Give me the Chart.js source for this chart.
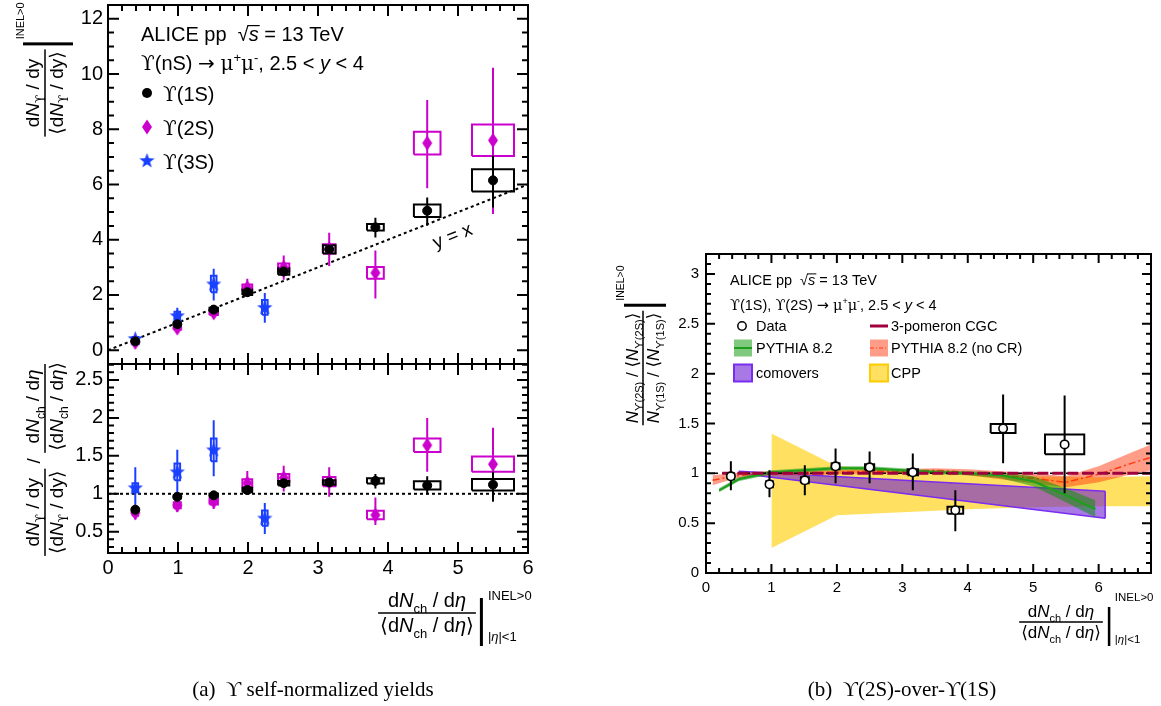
<!DOCTYPE html>
<html>
<head>
<meta charset="utf-8">
<title>Upsilon yields vs multiplicity</title>
<script src="https://cdn.jsdelivr.net/npm/chart.js@4.4.1/dist/chart.umd.min.js"></script>
<style>
  html, body { margin: 0; padding: 0; background: #fff; }
  body { position: relative; width: 1161px; height: 706px; overflow: hidden; }
  canvas { position: absolute; }
  .caption { position: absolute; top: 677px; font: 21px 'Liberation Serif', 'DejaVu Serif', serif; color: #000; white-space: nowrap; transform: translateX(-50%); }
</style>
</head>
<body>
<canvas id="yields" width="560" height="364" style="left:0;top:0"></canvas>
<canvas id="ratios" width="560" height="342" style="left:0;top:364px"></canvas>
<canvas id="double" width="561" height="406" style="left:600px;top:240px"></canvas>
<div class="caption" style="left:313px">(a)&nbsp; ϒ self-normalized yields</div>
<div class="caption" style="left:902px">(b)&nbsp; ϒ(2S)-over-ϒ(1S)</div>
<script>
// ---------- data ----------
// multiplicity bins, dNch/deta / <dNch/deta>
const multBins = [0.39, 0.99, 1.51, 1.99, 2.51, 3.16, 3.82, 4.56, 5.5];
const multBinSys = [0.04, 0.05, 0.06, 0.07, 0.08, 0.09, 0.12, 0.19, 0.3];
const multBins3S = [0.39, 0.99, 1.51, 2.24];
const multBinSys3S = [0.04, 0.04, 0.04, 0.04];

// self-normalized yields (upper left)
const yield1S = [0.32, 0.94, 1.47, 2.1, 2.85, 3.65, 4.45, 5.05, 6.15];
const yield1SLo = [0.28, 0.88, 1.4, 2.02, 2.75, 3.52, 4.08, 4.51, 5.17];
const yield1SHi = [0.36, 1.0, 1.54, 2.18, 2.95, 3.78, 4.8, 5.53, 7.04];
const yield1SSys = [0.03, 0.05, 0.07, 0.1, 0.12, 0.15, 0.12, 0.23, 0.4];

const yield2S = [0.28, 0.8, 1.35, 2.26, 3.0, 3.67, 2.8, 7.5, 7.6];
const yield2SLo = [0.18, 0.68, 1.23, 1.93, 2.55, 3.05, 1.87, 5.86, 4.93];
const yield2SHi = [0.38, 0.92, 1.47, 2.59, 3.43, 4.25, 3.61, 9.06, 10.23];
const yield2SSys = [0.05, 0.06, 0.08, 0.12, 0.14, 0.17, 0.21, 0.41, 0.57];

const yield3S = [0.42, 1.25, 2.4, 1.55];
const yield3SLo = [0.32, 0.84, 1.8, 0.99];
const yield3SHi = [0.52, 1.54, 2.95, 2.07];
const yield3SSys = [0.06, 0.14, 0.3, 0.27];

// yields divided by multiplicity (lower left)
const ratio1S = [0.79, 0.96, 0.98, 1.05, 1.14, 1.15, 1.17, 1.11, 1.12];
const ratio1SLo = [0.76, 0.93, 0.95, 1.02, 1.11, 1.12, 1.07, 0.99, 0.9];
const ratio1SHi = [0.82, 0.99, 1.01, 1.08, 1.17, 1.18, 1.26, 1.23, 1.29];
const ratio1SSys = [0.02, 0.02, 0.02, 0.03, 0.03, 0.03, 0.035, 0.055, 0.075];

const ratio2S = [0.75, 0.85, 0.9, 1.14, 1.21, 1.16, 0.72, 1.64, 1.39];
const ratio2SLo = [0.66, 0.76, 0.8, 0.99, 1.03, 0.96, 0.59, 1.29, 0.9];
const ratio2SHi = [0.85, 0.95, 1.0, 1.3, 1.37, 1.35, 0.95, 2.0, 1.87];
const ratio2SSys = [0.04, 0.04, 0.04, 0.05, 0.05, 0.06, 0.055, 0.09, 0.1];

const ratio3S = [1.08, 1.29, 1.58, 0.68];
const ratio3SLo = [0.79, 0.96, 1.23, 0.47];
const ratio3SHi = [1.35, 1.58, 1.97, 0.88];
const ratio3SSys = [0.06, 0.11, 0.15, 0.1];

// 2S over 1S (right)
const dataBins = [0.38, 0.97, 1.51, 1.98, 2.5, 3.16, 3.81, 4.54, 5.48];
const dataBinSys = [0.05, 0.05, 0.06, 0.06, 0.07, 0.08, 0.12, 0.19, 0.3];
const doubleRatio = [0.97, 0.89, 0.93, 1.07, 1.06, 1.01, 0.63, 1.45, 1.29];
const doubleLo = [0.83, 0.76, 0.78, 0.9, 0.9, 0.83, 0.42, 1.1, 0.8];
const doubleHi = [1.12, 1.03, 1.08, 1.25, 1.22, 1.2, 0.83, 1.79, 1.78];
const doubleSys = [0.03, 0.03, 0.03, 0.03, 0.03, 0.03, 0.035, 0.045, 0.1];

// models
const cgcX = [0.25, 6.8];
const cgcY = [1.0, 1.0];
const pythiaX = [0.2, 0.5, 1, 1.5, 2, 2.5, 3, 3.5, 4, 4.5, 5, 5.5, 5.95];
const pythiaY = [0.83, 0.94, 1.01, 1.03, 1.05, 1.05, 1.03, 1.01, 1.0, 0.98, 0.92, 0.78, 0.64];
const pythiaLo = [0.81, 0.92, 0.99, 1.01, 1.03, 1.03, 1.01, 0.99, 0.98, 0.95, 0.87, 0.71, 0.56];
const pythiaHi = [0.85, 0.96, 1.03, 1.05, 1.07, 1.07, 1.05, 1.03, 1.02, 1.01, 0.97, 0.85, 0.73];
const noCrX = [0.1, 0.4, 0.7, 1, 1.5, 2, 2.5, 3, 3.5, 4, 4.5, 5, 5.5, 6, 6.5, 6.8];
const noCrY = [0.93, 0.97, 0.99, 1.0, 1.0, 1.01, 1.02, 1.02, 1.03, 1.01, 0.98, 0.95, 0.91, 0.99, 1.1, 1.16];
const noCrLo = [0.88, 0.94, 0.97, 0.98, 0.98, 0.99, 1.0, 1.0, 1.01, 0.98, 0.94, 0.9, 0.86, 0.91, 0.99, 1.03];
const noCrHi = [0.98, 1.0, 1.01, 1.02, 1.02, 1.03, 1.04, 1.04, 1.05, 1.04, 1.02, 1.0, 0.97, 1.07, 1.21, 1.29];
const comoversX = [0.5, 6.1];
const comoversLo = [1.0, 0.55];
const comoversHi = [1.02, 0.82];
const cppX = [1, 2, 3, 4, 5, 6, 6.8];
const cppLo = [0.25, 0.58, 0.61, 0.64, 0.66, 0.67, 0.67];
const cppHi = [1.4, 1.07, 1.04, 1.01, 0.97, 0.96, 0.97];

// axes
const multTicks = [0, 1, 2, 3, 4, 5, 6];
const multLabels = ['0', '1', '2', '3', '4', '5', '6'];
const yieldTicks = [0, 2, 4, 6, 8, 10, 12];
const yieldLabels = ['0', '2', '4', '6', '8', '10', '12'];
const ratioTicks = [0.5, 1, 1.5, 2, 2.5];
const ratioLabels = ['0.5', '1', '1.5', '2', '2.5'];
const doubleTicks = [0, 0.5, 1, 1.5, 2, 2.5, 3];
const doubleLabels = ['0', '0.5', '1', '1.5', '2', '2.5', '3'];
const refX = [0, 6];
const refX2 = [0, 6.8];
const unity = [1, 1];

const seriesNames = ['ϒ(1S)', 'ϒ(2S)', 'ϒ(3S)'];
const modelNames = ['Data', '3-pomeron CGC', 'PYTHIA 8.2', 'PYTHIA 8.2 (no CR)', 'comovers', 'CPP'];

// ---------- styles ----------
const FAM = "'Liberation Sans','DejaVu Sans',Arial,sans-serif";
const SER = "'DejaVu Serif','Liberation Serif',serif";
const ARW = "'DejaVu Sans',sans-serif";
const C1 = '#000000', C2 = '#cc00cc', C3 = '#1a40ff';
const GREEN = '#1e9e1e', RED = '#ff3a10', PURPLE = '#7a2cf0', CGC = '#a0003c';
const GREEN_F = 'rgba(0,150,0,0.5)', RED_F = 'rgba(255,60,20,0.5)';
const PURPLE_F = 'rgba(110,30,210,0.6)', YELLOW_F = 'rgba(255,205,0,0.62)';

Chart.defaults.font.family = FAM;
Chart.defaults.color = '#000';

// ---------- rich text helpers ----------
function segFont(s, size) {
  const sz = (s.sub || s.sup) ? Math.round(size * 0.65) : size;
  return (s.i ? 'italic ' : '') + sz + 'px ' + (s.f || FAM);
}
function richWidth(ctx, segs, size) {
  let w = 0;
  for (const s of segs) { ctx.font = segFont(s, size); w += ctx.measureText(s.t).width; }
  return w;
}
function drawRich(ctx, x, y, segs, size, align) {
  if (align === 'center') x -= richWidth(ctx, segs, size) / 2;
  ctx.textAlign = 'left';
  ctx.textBaseline = 'alphabetic';
  for (const s of segs) {
    ctx.font = segFont(s, size);
    const dy = s.sub ? size * 0.28 : s.sup ? -size * 0.42 : 0;
    const w = ctx.measureText(s.t).width;
    ctx.fillText(s.t, x, y + dy);
    if (s.over) ctx.fillRect(x - 1, y - size * 0.8, w + 2, Math.max(1, size * 0.06));
    x += w;
  }
  return x;
}
function fracWidth(ctx, num, den, size) {
  return Math.max(richWidth(ctx, num, size), richWidth(ctx, den, size)) + 4;
}
function drawFrac(ctx, cx, cy, num, den, size) {
  const w = fracWidth(ctx, num, den, size);
  drawRich(ctx, cx, cy - size * 0.3, num, size, 'center');
  drawRich(ctx, cx, cy + size * 0.95, den, size, 'center');
  ctx.fillRect(cx - w / 2, cy - 0.75, w, 1.5);
  return w;
}
const ups = n => [{t: n[0], f: SER}, {t: n.slice(1)}];
const aliceLabel = [{t: 'ALICE pp  √'}, {t: 's', i: 1, over: 1}, {t: ' = 13 TeV'}];
const nsDecay = [{t: 'ϒ', f: SER}, {t: '(nS) '}, {t: '→', f: ARW}, {t: ' '}, {t: 'μ', f: SER}, {t: '+', sup: 1}, {t: 'μ', f: SER}, {t: '-', sup: 1}, {t: ', 2.5 < '}, {t: 'y', i: 1}, {t: ' < 4'}];
const s12Decay = [{t: 'ϒ', f: SER}, {t: '(1S), '}, {t: 'ϒ', f: SER}, {t: '(2S) '}, {t: '→', f: ARW}, {t: ' '}, {t: 'μ', f: SER}, {t: '+', sup: 1}, {t: 'μ', f: SER}, {t: '-', sup: 1}, {t: ', 2.5 < '}, {t: 'y', i: 1}, {t: ' < 4'}];
const upsNum = [{t: 'd'}, {t: 'N', i: 1}, {t: 'ϒ', sub: 1, f: SER}, {t: ' / dy'}];
const upsDen = [{t: '⟨d'}, {t: 'N', i: 1}, {t: 'ϒ', sub: 1, f: SER}, {t: ' / dy⟩'}];
const chNum = [{t: 'd'}, {t: 'N', i: 1}, {t: 'ch', sub: 1}, {t: ' / d'}, {t: 'η', i: 1}];
const chDen = [{t: '⟨d'}, {t: 'N', i: 1}, {t: 'ch', sub: 1}, {t: ' / d'}, {t: 'η', i: 1}, {t: '⟩'}];
const s2Num = [{t: 'N', i: 1}, {t: 'ϒ(2S)', sub: 1}, {t: ' / ⟨'}, {t: 'N', i: 1}, {t: 'ϒ(2S)', sub: 1}, {t: '⟩'}];
const s1Den = [{t: 'N', i: 1}, {t: 'ϒ(1S)', sub: 1}, {t: ' / ⟨'}, {t: 'N', i: 1}, {t: 'ϒ(1S)', sub: 1}, {t: '⟩'}];

// ---------- markers ----------
function markerCanvas(w, h, draw) {
  const c = document.createElement('canvas');
  c.width = w; c.height = h;
  draw(c.getContext('2d'));
  return c;
}
function starPath(g, cx, cy, R, r) {
  g.beginPath();
  for (let k = 0; k < 10; k++) {
    const a = -Math.PI / 2 + k * Math.PI / 5, rr = k % 2 ? r : R;
    g.lineTo(cx + rr * Math.cos(a), cy + rr * Math.sin(a));
  }
  g.closePath();
}
const starImg = markerCanvas(17, 17, g => { starPath(g, 8.5, 9, 8, 3.3); g.fillStyle = C3; g.fill(); });
const diamondImg = markerCanvas(12, 16, g => {
  g.beginPath(); g.moveTo(6, 0.5); g.lineTo(11, 8); g.lineTo(6, 15.5); g.lineTo(1, 8); g.closePath();
  g.fillStyle = C2; g.fill();
});

// ---------- dataset builders ----------
const pts = (xs, ys) => xs.map((x, i) => ({x, y: ys[i]}));
function errData(xs, lo, hi) {
  const d = [];
  xs.forEach((x, i) => d.push({x, y: lo[i]}, {x, y: hi[i]}, {x, y: null}));
  return d;
}
function boxData(xs, ys, sys, xw) {
  const d = [];
  xs.forEach((x, i) => {
    const a = x - xw[i], b = x + xw[i], l = ys[i] - sys[i], h = ys[i] + sys[i];
    d.push({x: a, y: l}, {x: b, y: l}, {x: b, y: h}, {x: a, y: h}, {x: a, y: l}, {x, y: null});
  });
  return d;
}
const lineDs = (data, color, width, extra) =>
  Object.assign({data, borderColor: color, borderWidth: width, pointRadius: 0, fill: false, tension: 0}, extra);
const markDs = (data, style, radius, color, extra) =>
  Object.assign({data, showLine: false, pointStyle: style, pointRadius: radius, pointBackgroundColor: color,
    pointBorderColor: color, pointBorderWidth: 1}, extra);

// ---------- scales / frame ----------
function yScale(min, max, ticks, labels, size, pad, width) {
  return {
    type: 'linear', min, max,
    afterBuildTicks: s => { s.ticks = ticks.map(v => ({value: v})); },
    ticks: {font: {size}, color: '#000', padding: pad, autoSkip: false, callback: (v, i) => labels[i]},
    grid: {display: false, drawTicks: false},
    border: {display: false},
    afterFit: s => { s.width = width; s.paddingTop = 0; s.paddingBottom = 0; }
  };
}
function xScale(min, max, ticks, labels, size, pad, height, show) {
  return {
    type: 'linear', min, max,
    afterBuildTicks: s => { s.ticks = ticks.map(v => ({value: v})); },
    ticks: {display: show, font: {size}, color: '#000', padding: pad, autoSkip: false, maxRotation: 0,
      callback: (v, i) => labels[i]},
    grid: {display: false, drawTicks: false},
    border: {display: false},
    afterFit: s => { s.height = height; s.paddingLeft = 0; s.paddingRight = 0; }
  };
}
const framePlugin = {
  id: 'frame',
  afterDatasetsDraw(chart, args, o) {
    const {ctx, chartArea: a} = chart;
    const sx = chart.scales.x, sy = chart.scales.y;
    const mark = (step, major, scale, fn) => {
      const k0 = Math.ceil(scale.min / step - 1e-6);
      for (let k = k0; k * step <= scale.max + 1e-6; k++) {
        const v = k * step;
        const isMaj = Math.abs(v / major - Math.round(v / major)) < 1e-6;
        fn(scale.getPixelForValue(v), isMaj ? o.maj : o.min);
      }
    };
    ctx.save();
    ctx.strokeStyle = '#000';
    ctx.lineWidth = o.lw;
    ctx.beginPath();
    mark(o.xMinor, o.xMajor, sx, (p, L) => {
      ctx.moveTo(p, a.bottom); ctx.lineTo(p, a.bottom - L);
      ctx.moveTo(p, a.top); ctx.lineTo(p, a.top + L);
    });
    mark(o.yMinor, o.yMajor, sy, (p, L) => {
      ctx.moveTo(a.left, p); ctx.lineTo(a.left + L, p);
      ctx.moveTo(a.right, p); ctx.lineTo(a.right - L, p);
    });
    ctx.stroke();
    ctx.strokeRect(a.left, a.top, a.right - a.left, a.bottom - a.top);
    ctx.restore();
  }
};
function baseOptions(padding, x, y, frame) {
  return {
    responsive: false, animation: false, devicePixelRatio: 1, events: [],
    layout: {padding, autoPadding: false},
    plugins: {legend: {display: false}, tooltip: {enabled: false}, frame},
    scales: {x, y}
  };
}

// ---------- upper left: yields ----------
const yieldText = {
  id: 'yieldText',
  afterDraw(chart) {
    const ctx = chart.ctx;
    ctx.save();
    ctx.fillStyle = '#000';
    drawRich(ctx, 141, 41, aliceLabel, 20);
    drawRich(ctx, 141, 70, nsDecay, 20);
    const rows = [93, 127, 161];
    ctx.beginPath(); ctx.arc(147, rows[0], 5, 0, 2 * Math.PI); ctx.fillStyle = C1; ctx.fill();
    ctx.drawImage(diamondImg, 141, rows[1] - 8);
    ctx.drawImage(starImg, 138.5, rows[2] - 9);
    ctx.fillStyle = '#000';
    seriesNames.forEach((n, i) => drawRich(ctx, 163, rows[i] + 8, ups(n), 20));

    ctx.save();
    ctx.translate(452, 235);
    ctx.rotate(-0.376);
    drawRich(ctx, 0, 7, [{t: 'y = x'}], 19, 'center');
    ctx.restore();

    ctx.save();
    ctx.translate(45, 93);
    ctx.rotate(-Math.PI / 2);
    const w = drawFrac(ctx, 0, 0, upsNum, upsDen, 19);
    ctx.fillRect(w / 2 + 4, -22, 3, 50);
    drawRich(ctx, w / 2 + 10, -21, [{t: 'INEL>0'}], 11);
    ctx.restore();
    ctx.restore();
  }
};

new Chart(document.getElementById('yields'), {
  type: 'line',
  data: {datasets: [
    markDs(pts(multBins, yield1S), 'circle', 4.5, C1, {order: 1}),
    markDs(pts(multBins, yield2S), diamondImg, 6, C2, {order: 2}),
    markDs(pts(multBins3S, yield3S), starImg, 6, C3, {order: 3}),
    lineDs(errData(multBins, yield1SLo, yield1SHi), C1, 2, {order: 4}),
    lineDs(errData(multBins, yield2SLo, yield2SHi), C2, 2, {order: 5}),
    lineDs(errData(multBins3S, yield3SLo, yield3SHi), C3, 2, {order: 6}),
    lineDs(boxData(multBins, yield1S, yield1SSys, multBinSys), C1, 2, {order: 7}),
    lineDs(boxData(multBins, yield2S, yield2SSys, multBinSys), C2, 2, {order: 8}),
    lineDs(boxData(multBins3S, yield3S, yield3SSys, multBinSys3S), C3, 2, {order: 9}),
    lineDs(pts(refX, refX), '#000', 2, {order: 10, borderDash: [3, 3]})
  ]},
  options: baseOptions({left: 0, right: 32, top: 5, bottom: 0},
    xScale(0, 6, multTicks, multLabels, 20, 3, 0, false),
    yScale(-0.5, 12.5, yieldTicks, yieldLabels, 20, 5, 108),
    {lw: 2, maj: 11, min: 6, xMajor: 1, xMinor: 0.2, yMajor: 2, yMinor: 0.5}),
  plugins: [framePlugin, yieldText]
});

// ---------- lower left: yields / multiplicity ----------
const ratioText = {
  id: 'ratioText',
  afterDraw(chart) {
    const ctx = chart.ctx;
    ctx.save();
    ctx.fillStyle = '#000';
    // y title
    ctx.save();
    ctx.translate(45, 94);
    ctx.rotate(-Math.PI / 2);
    const s = 19;
    const w1 = fracWidth(ctx, upsNum, upsDen, s), w2 = fracWidth(ctx, chNum, chDen, s);
    ctx.font = s + 'px ' + FAM;
    const ws = ctx.measureText(' / ').width;
    const x0 = -(w1 + ws + w2) / 2;
    drawFrac(ctx, x0 + w1 / 2, 0, upsNum, upsDen, s);
    drawRich(ctx, x0 + w1, -5, [{t: ' / '}], s);
    drawFrac(ctx, x0 + w1 + ws + w2 / 2, 0, chNum, chDen, s);
    ctx.restore();
    // x title
    const w = drawFrac(ctx, 427, 249, chNum, chDen, 20);
    const bx = 427 + w / 2 + 4;
    ctx.fillRect(bx, 234, 3, 48);
    drawRich(ctx, bx + 8, 236, [{t: 'INEL>0'}], 13);
    drawRich(ctx, bx + 8, 277, [{t: '|'}, {t: 'η', i: 1}, {t: '|<1'}], 13);
    ctx.restore();
  }
};

new Chart(document.getElementById('ratios'), {
  type: 'line',
  data: {datasets: [
    markDs(pts(multBins, ratio1S), 'circle', 4.5, C1, {order: 1}),
    markDs(pts(multBins, ratio2S), diamondImg, 6, C2, {order: 2}),
    markDs(pts(multBins3S, ratio3S), starImg, 6, C3, {order: 3}),
    lineDs(errData(multBins, ratio1SLo, ratio1SHi), C1, 2, {order: 4}),
    lineDs(errData(multBins, ratio2SLo, ratio2SHi), C2, 2, {order: 5}),
    lineDs(errData(multBins3S, ratio3SLo, ratio3SHi), C3, 2, {order: 6}),
    lineDs(boxData(multBins, ratio1S, ratio1SSys, multBinSys), C1, 2, {order: 7}),
    lineDs(boxData(multBins, ratio2S, ratio2SSys, multBinSys), C2, 2, {order: 8}),
    lineDs(boxData(multBins3S, ratio3S, ratio3SSys, multBinSys3S), C3, 2, {order: 9}),
    lineDs(pts(refX, unity), '#000', 2, {order: 10, borderDash: [3, 3]})
  ]},
  options: baseOptions({left: 0, right: 32, top: 0, bottom: 123},
    xScale(0, 6, multTicks, multLabels, 20, 3, 30, true),
    yScale(0.22, 2.71, ratioTicks, ratioLabels, 20, 5, 108),
    {lw: 2, maj: 11, min: 6, xMajor: 1, xMinor: 0.2, yMajor: 0.5, yMinor: 0.1}),
  plugins: [framePlugin, ratioText]
});

// ---------- right: 2S over 1S ----------
function legendBox(ctx, x, y, fill, stroke) {
  ctx.fillStyle = fill;
  ctx.fillRect(x, y, 18, 17);
  if (stroke) { ctx.strokeStyle = stroke; ctx.lineWidth = 2; ctx.strokeRect(x, y, 18, 17); }
}
const doubleText = {
  id: 'doubleText',
  afterDraw(chart) {
    const ctx = chart.ctx;
    ctx.save();
    ctx.fillStyle = '#000';
    drawRich(ctx, 130, 45, aliceLabel, 14.5);
    drawRich(ctx, 130, 70, s12Decay, 14.5);
    // legend
    const c1 = 142, t1 = 156, c2 = 270, t2 = 291, r = [86, 108, 133];
    ctx.beginPath(); ctx.arc(c1, r[0], 4.2, 0, 2 * Math.PI);
    ctx.fillStyle = '#fff'; ctx.fill(); ctx.strokeStyle = '#000'; ctx.lineWidth = 1.5; ctx.stroke();
    ctx.strokeStyle = CGC; ctx.lineWidth = 3;
    ctx.beginPath(); ctx.moveTo(c2, r[0]); ctx.lineTo(c2 + 18, r[0]); ctx.stroke();
    legendBox(ctx, 134, r[1] - 8.5, GREEN_F);
    ctx.strokeStyle = GREEN; ctx.lineWidth = 2;
    ctx.beginPath(); ctx.moveTo(134, r[1]); ctx.lineTo(152, r[1]); ctx.stroke();
    legendBox(ctx, c2, r[1] - 8.5, RED_F);
    ctx.strokeStyle = RED; ctx.lineWidth = 1; ctx.setLineDash([4, 2, 1, 2]);
    ctx.beginPath(); ctx.moveTo(c2, r[1]); ctx.lineTo(c2 + 18, r[1]); ctx.stroke();
    ctx.setLineDash([]);
    legendBox(ctx, 134, r[2] - 8.5, PURPLE_F, PURPLE);
    legendBox(ctx, c2, r[2] - 8.5, YELLOW_F, '#ffcc00');
    ctx.fillStyle = '#000';
    drawRich(ctx, t1, r[0] + 5, [{t: modelNames[0]}], 14.5);
    drawRich(ctx, t2, r[0] + 5, [{t: modelNames[1]}], 14.5);
    drawRich(ctx, t1, r[1] + 5, [{t: modelNames[2]}], 14.5);
    drawRich(ctx, t2, r[1] + 5, [{t: modelNames[3]}], 14.5);
    drawRich(ctx, t1, r[2] + 5, [{t: modelNames[4]}], 14.5);
    drawRich(ctx, t2, r[2] + 5, [{t: modelNames[5]}], 14.5);
    // y title
    ctx.save();
    ctx.translate(43, 128);
    ctx.rotate(-Math.PI / 2);
    const wy = drawFrac(ctx, 0, 0, s2Num, s1Den, 17);
    ctx.fillRect(wy / 2 + 4, -19, 3, 42);
    drawRich(ctx, wy / 2 + 10, -19, [{t: 'INEL>0'}], 10.5);
    ctx.restore();
    // x title
    const w = drawFrac(ctx, 461, 382, chNum, chDen, 17);
    const bx = 461 + w / 2 + 5;
    ctx.fillRect(bx, 367, 2.5, 42);
    drawRich(ctx, bx + 7, 361, [{t: 'INEL>0'}], 11.5);
    drawRich(ctx, bx + 7, 403, [{t: '|'}, {t: 'η', i: 1}, {t: '|<1'}], 11.5);
    ctx.restore();
  }
};

new Chart(document.getElementById('double'), {
  type: 'line',
  data: {datasets: [
    markDs(pts(dataBins, doubleRatio), 'circle', 4.2, '#fff', {pointBorderColor: '#000', pointBorderWidth: 1.6, order: 1}),
    lineDs(errData(dataBins, doubleLo, doubleHi), '#000', 2, {order: 2}),
    lineDs(boxData(dataBins, doubleRatio, doubleSys, dataBinSys), '#000', 2, {order: 3}),
    lineDs(pts(cgcX, cgcY), CGC, 3, {borderDash: [11, 4], order: 4}),
    lineDs(pts(refX2, unity), '#000', 1.5, {borderDash: [4, 4], order: 4.5}),
    lineDs(pts(pythiaX, pythiaY), GREEN, 2, {order: 5}),
    lineDs(pts(pythiaX, pythiaLo), GREEN_F, 0, {order: 6}),
    lineDs(pts(pythiaX, pythiaHi), GREEN_F, 0, {order: 6, fill: '-1', backgroundColor: GREEN_F}),
    lineDs(pts(noCrX, noCrY), RED, 1.5, {borderDash: [7, 3, 2, 3], order: 7}),
    lineDs(pts(noCrX, noCrLo), RED_F, 0, {order: 8}),
    lineDs(pts(noCrX, noCrHi), RED_F, 0, {order: 8, fill: '-1', backgroundColor: RED_F}),
    lineDs(pts(comoversX, comoversLo), PURPLE, 1.5, {order: 9}),
    lineDs(pts(comoversX, comoversHi), PURPLE, 1.5, {order: 9, fill: '-1', backgroundColor: PURPLE_F}),
    lineDs([{x: comoversX[1], y: comoversLo[1]}, {x: comoversX[1], y: comoversHi[1]}], PURPLE, 1.5, {order: 9}),
    lineDs(pts(cppX, cppLo), YELLOW_F, 0, {order: 10}),
    lineDs(pts(cppX, cppHi), YELLOW_F, 0, {order: 10, fill: '-1', backgroundColor: YELLOW_F})
  ]},
  options: baseOptions({left: 0, right: 10, top: 14, bottom: 48},
    xScale(0, 6.8, multTicks, multLabels, 15, 6, 25, true),
    yScale(0, 3.2, doubleTicks, doubleLabels, 15, 7, 106),
    {lw: 2, maj: 9, min: 5, xMajor: 1, xMinor: 0.2, yMajor: 0.5, yMinor: 0.1}),
  plugins: [framePlugin, doubleText]
});
</script>
</body>
</html>
